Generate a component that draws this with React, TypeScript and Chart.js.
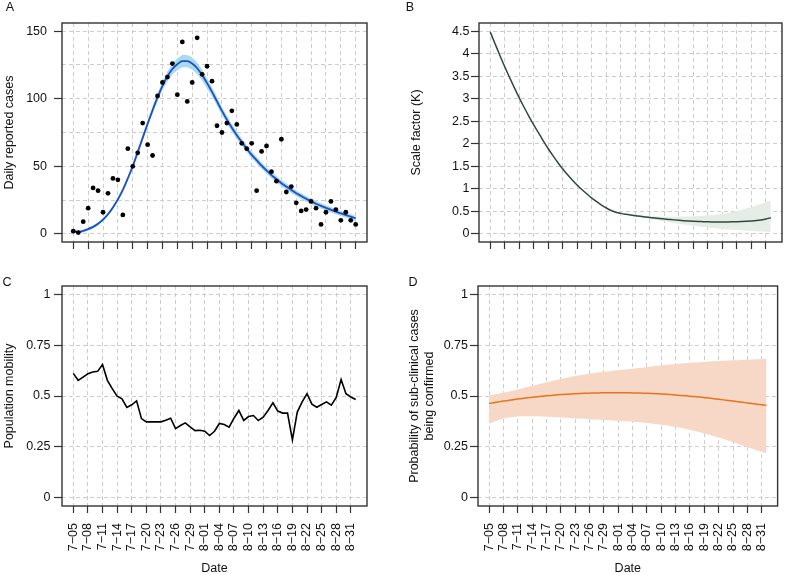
import React, { useEffect, useRef } from 'react';
import { Chart, registerables } from 'chart.js';

Chart.register(...registerables);

const W = 787;
const H = 575;
const FONT = '"Liberation Sans", Arial, Helvetica, sans-serif';
const FS = 12.5;
const GRID = '#cdcdcd';
const AXIS = '#333333';
const TXT = '#111111';

// x tick labels (every 3 days, day index 0 = 7-05)
const tickLabels = ['7−05', '7−08', '7−11', '7−14', '7−17', '7−20', '7−23', '7−26', '7−29', '8−01', '8−04', '8−07', '8−10', '8−13', '8−16', '8−19', '8−22', '8−25', '8−28', '8−31'];
const tickDays = [0, 3, 6, 9, 12, 15, 18, 21, 24, 27, 30, 33, 36, 39, 42, 45, 48, 51, 54, 57];

// Panel A: daily reported cases (7-05 .. 8-31)
const dailyCases = [2, 1, 9, 19, 34, 32, 16, 30, 41, 40, 14, 63, 50, 60, 82, 66, 58, 102, 112, 116, 126, 103, 142, 98, 112, 145, 118, 124, 113, 80, 75, 82, 91, 81, 67, 63, 67, 32, 61, 65, 46, 39, 70, 31, 35, 23, 17, 18, 24, 19, 7, 16, 24, 18, 10, 16, 10, 7];
const fittedCases = [1.7, 1.5, 2.2, 3.5, 5.2, 7.5, 10.5, 14.5, 19.5, 25.5, 32.5, 41, 50, 60.5, 71, 81.5, 91.5, 101, 109.5, 116.5, 122, 125.5, 127.8, 127.8, 126, 122.5, 117.5, 111.5, 105, 98, 91, 84.5, 78.5, 73, 68, 63, 58.5, 54.5, 50.5, 47, 43.5, 40.5, 37.5, 35, 32.5, 30, 28, 26, 24, 22.3, 20.7, 19.2, 17.8, 16.4, 15.1, 13.9, 12.8, 11.5];
const fittedLower = [0.9, 0.7, 1.3, 2.5, 4.2, 6.4, 9.3, 13.2, 18.1, 24, 30.9, 39.3, 48.2, 58.5, 68.8, 79.1, 88.8, 98, 106.2, 112.8, 117.9, 121.1, 123.2, 123.2, 121.5, 118.2, 113.5, 107.8, 101.6, 94.8, 88, 81.6, 75.7, 70.3, 65.4, 60.5, 56, 52.1, 48.1, 44.7, 41.2, 38.2, 35.3, 32.8, 30.3, 27.9, 25.9, 23.9, 22, 20.3, 18.7, 17.2, 15.8, 14.5, 13.2, 12, 11, 9.7];
const fittedUpper = [2.5, 2.3, 3.1, 4.5, 6.2, 8.6, 11.7, 15.8, 20.9, 27, 34.1, 42.7, 51.8, 62.5, 73.2, 83.9, 94.2, 104, 112.8, 120.2, 126.1, 129.9, 132.4, 132.4, 130.5, 126.8, 121.5, 115.2, 108.4, 101.2, 94, 87.4, 81.3, 75.7, 70.6, 65.5, 61, 56.9, 52.9, 49.3, 45.8, 42.8, 39.7, 37.2, 34.7, 32.1, 30.1, 28.1, 26, 24.3, 22.7, 21.2, 19.8, 18.3, 17, 15.8, 14.6, 13.3];

// Panel B: scale factor K (7-05 .. 9-01)
const scaleK = [4.48, 4.22, 3.96, 3.71, 3.47, 3.24, 3.02, 2.81, 2.61, 2.42, 2.24, 2.06, 1.89, 1.73, 1.58, 1.44, 1.31, 1.19, 1.08, 0.98, 0.885, 0.795, 0.715, 0.64, 0.575, 0.52, 0.48, 0.455, 0.435, 0.418, 0.403, 0.389, 0.376, 0.364, 0.352, 0.341, 0.331, 0.321, 0.311, 0.302, 0.294, 0.287, 0.281, 0.276, 0.272, 0.268, 0.266, 0.265, 0.265, 0.266, 0.268, 0.271, 0.275, 0.281, 0.288, 0.297, 0.31, 0.33, 0.36];
const scaleKLower = [4.47, 4.21, 3.95, 3.7, 3.46, 3.23, 3.01, 2.8, 2.6, 2.41, 2.23, 2.05, 1.88, 1.72, 1.57, 1.43, 1.3, 1.18, 1.07, 0.97, 0.875, 0.785, 0.705, 0.63, 0.565, 0.51, 0.47, 0.445, 0.425, 0.405, 0.385, 0.367, 0.35, 0.333, 0.315, 0.297, 0.279, 0.261, 0.243, 0.226, 0.21, 0.195, 0.18, 0.166, 0.153, 0.141, 0.13, 0.12, 0.11, 0.1, 0.092, 0.085, 0.078, 0.071, 0.064, 0.057, 0.051, 0.045, 0.04];
const scaleKUpper = [4.49, 4.23, 3.97, 3.72, 3.48, 3.25, 3.03, 2.82, 2.62, 2.43, 2.25, 2.07, 1.9, 1.74, 1.59, 1.45, 1.32, 1.2, 1.09, 0.99, 0.895, 0.805, 0.725, 0.65, 0.585, 0.53, 0.49, 0.467, 0.448, 0.433, 0.421, 0.411, 0.403, 0.396, 0.39, 0.386, 0.383, 0.382, 0.382, 0.383, 0.385, 0.388, 0.392, 0.397, 0.403, 0.411, 0.42, 0.433, 0.448, 0.466, 0.487, 0.51, 0.537, 0.567, 0.598, 0.63, 0.664, 0.7, 0.74];

// Panel C: population mobility (7-05 .. 9-01)
const mobility = [0.611, 0.577, 0.593, 0.609, 0.618, 0.621, 0.655, 0.577, 0.536, 0.499, 0.486, 0.444, 0.457, 0.476, 0.389, 0.373, 0.373, 0.373, 0.373, 0.381, 0.391, 0.34, 0.355, 0.368, 0.348, 0.33, 0.332, 0.327, 0.306, 0.327, 0.365, 0.36, 0.347, 0.391, 0.429, 0.38, 0.399, 0.404, 0.38, 0.396, 0.429, 0.467, 0.426, 0.416, 0.416, 0.284, 0.421, 0.471, 0.511, 0.46, 0.445, 0.458, 0.471, 0.455, 0.493, 0.581, 0.511, 0.495, 0.483];

// Panel D: probability of sub-clinical cases being confirmed (7-05 .. 9-01)
const probConfirmed = [0.463, 0.467, 0.471, 0.475, 0.478, 0.482, 0.485, 0.488, 0.491, 0.494, 0.496, 0.499, 0.501, 0.503, 0.505, 0.507, 0.508, 0.51, 0.511, 0.512, 0.513, 0.514, 0.515, 0.515, 0.516, 0.516, 0.516, 0.516, 0.516, 0.516, 0.515, 0.515, 0.514, 0.513, 0.512, 0.511, 0.51, 0.509, 0.507, 0.505, 0.503, 0.501, 0.499, 0.497, 0.495, 0.492, 0.49, 0.487, 0.484, 0.481, 0.478, 0.475, 0.472, 0.469, 0.466, 0.463, 0.46, 0.457, 0.454];
const probUpper = [0.503, 0.507, 0.511, 0.516, 0.521, 0.526, 0.532, 0.538, 0.544, 0.549, 0.555, 0.561, 0.567, 0.572, 0.578, 0.583, 0.588, 0.593, 0.598, 0.602, 0.606, 0.61, 0.613, 0.616, 0.619, 0.622, 0.625, 0.627, 0.629, 0.631, 0.634, 0.636, 0.639, 0.642, 0.645, 0.648, 0.65, 0.653, 0.655, 0.657, 0.659, 0.661, 0.663, 0.664, 0.666, 0.667, 0.669, 0.67, 0.672, 0.673, 0.674, 0.675, 0.676, 0.677, 0.678, 0.679, 0.68, 0.681, 0.683];
const probLower = [0.365, 0.374, 0.382, 0.389, 0.394, 0.397, 0.399, 0.4, 0.401, 0.401, 0.4, 0.399, 0.398, 0.397, 0.396, 0.395, 0.393, 0.392, 0.39, 0.389, 0.388, 0.386, 0.385, 0.383, 0.382, 0.381, 0.38, 0.379, 0.377, 0.376, 0.374, 0.372, 0.37, 0.367, 0.365, 0.362, 0.359, 0.356, 0.352, 0.348, 0.344, 0.339, 0.334, 0.328, 0.322, 0.316, 0.31, 0.303, 0.296, 0.289, 0.281, 0.273, 0.265, 0.257, 0.249, 0.241, 0.233, 0.226, 0.218];

const yTicksA = [0, 25, 50, 75, 100, 125, 150];
const yTicksB = [0, 0.5, 1, 1.5, 2, 2.5, 3, 3.5, 4, 4.5];
const yTicksProb = [0, 0.25, 0.5, 0.75, 1];

const pts = (arr: number[]) => arr.map((y, i) => ({ x: i, y }));

const framePlugin = {
  id: 'frame',
  afterDatasetsDraw(chart: any) {
    const { ctx, chartArea: a } = chart;
    ctx.save();
    ctx.strokeStyle = AXIS;
    ctx.lineWidth = 1.4;
    ctx.strokeRect(a.left, a.top, a.right - a.left, a.bottom - a.top);
    ctx.restore();
  },
  afterDraw(chart: any, _args: any, opts: any) {
    const { ctx } = chart;
    ctx.save();
    ctx.fillStyle = TXT;
    ctx.font = `${FS}px ${FONT}`;
    ctx.textAlign = 'center';
    ctx.textBaseline = 'middle';
    ctx.fillText(opts.letter, opts.lx, opts.ly);
    ctx.restore();
  },
};

type Spec = {
  letter: string;
  lx: number;
  ly: number;
  area: { left: number; top: number; right: number; bottom: number };
  yAxisW: number;
  xAxisH: number;
  xMin: number;
  xMax: number;
  yMin: number;
  yMax: number;
  yGrid: number[];
  yLab: (v: number) => boolean;
  yTitle: string | string[];
  yTitlePad: number;
  yTickPad: number;
  showX: boolean;
  datasets: any[];
};

function makeConfig(p: Spec): any {
  const font = { family: FONT, size: FS };
  return {
    type: 'line',
    data: { datasets: p.datasets },
    plugins: [framePlugin],
    options: {
      responsive: false,
      animation: false,
      devicePixelRatio: 1,
      events: [],
      layout: {
        autoPadding: false,
        padding: {
          left: p.area.left - p.yAxisW,
          right: W - p.area.right,
          top: p.area.top,
          bottom: H - p.area.bottom - p.xAxisH,
        },
      },
      plugins: {
        legend: { display: false },
        tooltip: { enabled: false },
        frame: { letter: p.letter, lx: p.lx, ly: p.ly },
      },
      elements: { point: { radius: 0 }, line: { tension: 0 } },
      scales: {
        x: {
          type: 'linear',
          position: 'bottom',
          min: p.xMin,
          max: p.xMax,
          afterBuildTicks: (s: any) => {
            s.ticks = tickDays.map((v) => ({ value: v }));
          },
          afterFit: (s: any) => {
            s.height = p.xAxisH;
          },
          grid: { color: GRID, lineWidth: 1, tickLength: 7, tickColor: AXIS, tickWidth: 1.2 },
          border: { display: false, dash: [4, 3] },
          ticks: {
            display: p.showX,
            autoSkip: false,
            minRotation: 90,
            maxRotation: 90,
            padding: 10,
            color: TXT,
            font,
            callback: (v: number) => {
              const k = tickDays.indexOf(v);
              return k >= 0 ? tickLabels[k] : '';
            },
          },
          title: {
            display: p.showX,
            text: 'Date',
            color: TXT,
            font: { family: FONT, size: FS, lineHeight: 1 },
            padding: 0,
          },
        },
        y: {
          type: 'linear',
          position: 'left',
          min: p.yMin,
          max: p.yMax,
          afterBuildTicks: (s: any) => {
            s.ticks = p.yGrid.map((v) => ({ value: v }));
          },
          afterFit: (s: any) => {
            s.width = p.yAxisW;
          },
          grid: {
            color: GRID,
            lineWidth: 1,
            tickLength: 8,
            tickWidth: 1.2,
            tickColor: (c: any) => (c.tick && p.yLab(c.tick.value) ? AXIS : 'rgba(0,0,0,0)'),
          },
          border: { display: false, dash: [4, 3] },
          ticks: {
            padding: p.yTickPad,
            color: TXT,
            font,
            callback: (v: number) => (p.yLab(v) ? String(v) : ''),
          },
          title: {
            display: true,
            text: p.yTitle,
            color: TXT,
            font: { family: FONT, size: FS, lineHeight: 1.15 },
            padding: { top: p.yTitlePad, bottom: 0 },
          },
        },
      },
    },
  };
}

const specs: Spec[] = [
  {
    letter: 'A', lx: 10, ly: 8,
    area: { left: 62, top: 23, right: 367, bottom: 242 },
    yAxisW: 62, xAxisH: 10,
    xMin: -2.28, xMax: 59.28, yMin: -6, yMax: 156,
    yGrid: yTicksA, yLab: (v) => v % 50 === 0,
    yTitle: 'Daily reported cases', yTitlePad: 2.3, yTickPad: 7,
    showX: false,
    datasets: [
      { data: pts(dailyCases), showLine: false, pointRadius: 2.4, pointBackgroundColor: '#000', pointBorderWidth: 0 },
      { data: pts(fittedCases), borderColor: '#1d4fc6', borderWidth: 1.8, cubicInterpolationMode: 'monotone', fill: false },
      { data: pts(fittedLower), borderWidth: 0, borderColor: 'rgba(0,0,0,0)', fill: false },
      { data: pts(fittedUpper), borderWidth: 0, borderColor: 'rgba(0,0,0,0)', fill: 2, backgroundColor: '#a9dbec' },
    ],
  },
  {
    letter: 'B', lx: 410, ly: 8,
    area: { left: 479, top: 23, right: 782, bottom: 242 },
    yAxisW: 84, xAxisH: 10,
    xMin: -2.32, xMax: 60.32, yMin: -0.18, yMax: 4.68,
    yGrid: yTicksB, yLab: () => true,
    yTitle: 'Scale factor (K)', yTitlePad: 14.3, yTickPad: 1.5,
    showX: false,
    datasets: [
      { data: pts(scaleK), borderColor: '#2d4a3e', borderWidth: 1.5, cubicInterpolationMode: 'monotone', fill: false },
      { data: pts(scaleKLower), borderWidth: 0, borderColor: 'rgba(0,0,0,0)', fill: false },
      { data: pts(scaleKUpper), borderWidth: 0, borderColor: 'rgba(0,0,0,0)', fill: 1, backgroundColor: '#e6ede6' },
    ],
  },
  {
    letter: 'C', lx: 7, ly: 283,
    area: { left: 62, top: 286, right: 367, bottom: 506 },
    yAxisW: 62, xAxisH: 69,
    xMin: -2.32, xMax: 60.32, yMin: -0.04, yMax: 1.04,
    yGrid: yTicksProb, yLab: () => true,
    yTitle: 'Population mobility', yTitlePad: 2, yTickPad: 3.5,
    showX: true,
    datasets: [
      { data: pts(mobility), borderColor: '#000', borderWidth: 1.6, fill: false },
    ],
  },
  {
    letter: 'D', lx: 413, ly: 283,
    area: { left: 478, top: 286, right: 782, bottom: 506 },
    yAxisW: 83, xAxisH: 69,
    xMin: -2.32, xMax: 60.32, yMin: -0.04, yMax: 1.04,
    yGrid: yTicksProb, yLab: () => true,
    yTitle: ['Probability of sub-clinical cases', 'being confirmed'], yTitlePad: 12.8, yTickPad: 2,
    showX: true,
    datasets: [
      { data: pts(probConfirmed), borderColor: '#e8731c', borderWidth: 1.5, cubicInterpolationMode: 'monotone', fill: false },
      { data: pts(probLower), borderWidth: 0, borderColor: 'rgba(0,0,0,0)', fill: false },
      { data: pts(probUpper), borderWidth: 0, borderColor: 'rgba(0,0,0,0)', fill: 1, backgroundColor: '#f7d8c6' },
    ],
  },
];

function Panel({ spec }: { spec: Spec }) {
  const ref = useRef<HTMLCanvasElement | null>(null);
  useEffect(() => {
    if (!ref.current) return;
    const chart = new Chart(ref.current, makeConfig(spec));
    return () => chart.destroy();
  }, [spec]);
  return (
    <canvas
      ref={ref}
      width={W}
      height={H}
      style={{ position: 'absolute', left: 0, top: 0, width: W, height: H }}
    />
  );
}

export default function App() {
  return (
    <div style={{ position: 'absolute', left: 0, top: 0, width: W, height: H, background: '#fff', overflow: 'hidden' }}>
      {specs.map((s) => (
        <Panel key={s.letter} spec={s} />
      ))}
    </div>
  );
}
